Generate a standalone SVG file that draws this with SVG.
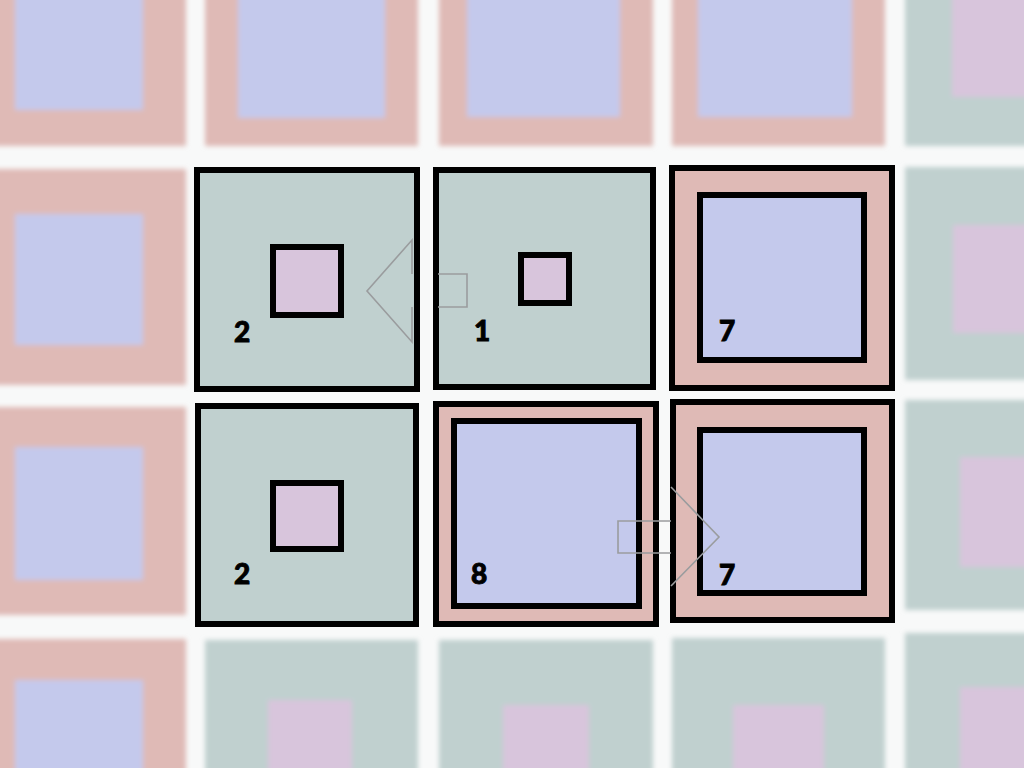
<svg xmlns="http://www.w3.org/2000/svg" width="1024" height="768" viewBox="0 0 1024 768">
<style>
.red{fill:#dfbab6}
.blue{fill:#c4c9ec}
.green{fill:#c0d0cf}
.pink{fill:#d8c5dc}
.bd{stroke:#000;stroke-width:6}
.lbl{font-family:Lato,"Liberation Sans",sans-serif;font-weight:900;font-size:28px;fill:#000;stroke:#000;stroke-width:0.9}
.arrow{fill:none;stroke:#9a9c9e;stroke-width:1.6;stroke-linejoin:miter}
</style>
<defs>
<filter id="blur" x="-5%" y="-5%" width="110%" height="110%"><feGaussianBlur stdDeviation="2.6"/></filter>
</defs>
<rect width="1024" height="768" fill="#f8f9f9"/>
<g id="background" filter="url(#blur)">
<rect class="red" x="-10" y="-10" width="196" height="156"/><rect class="blue" x="15" y="-10" width="128" height="120"/>
<rect class="red" x="205" y="-10" width="213" height="156"/><rect class="blue" x="238" y="-10" width="147" height="128"/>
<rect class="red" x="439" y="-10" width="214" height="156"/><rect class="blue" x="467" y="-10" width="153" height="127"/>
<rect class="red" x="672" y="-10" width="213" height="156"/><rect class="blue" x="698" y="-10" width="154" height="127"/>
<rect class="green" x="905" y="-10" width="129" height="156"/><rect class="pink" x="952" y="-10" width="82" height="107"/>
<rect class="red" x="-10" y="169" width="196" height="216"/><rect class="blue" x="15" y="214" width="128" height="131"/>
<rect class="green" x="905" y="167" width="129" height="213"/><rect class="pink" x="953" y="225" width="81" height="108"/>
<rect class="red" x="-10" y="407" width="196" height="208"/><rect class="blue" x="15" y="447" width="128" height="133"/>
<rect class="green" x="905" y="400" width="129" height="210"/><rect class="pink" x="960" y="457" width="74" height="110"/>
<rect class="red" x="-10" y="639" width="196" height="139"/><rect class="blue" x="15" y="680" width="128" height="98"/>
<rect class="green" x="205" y="640" width="213" height="138"/><rect class="pink" x="268" y="700" width="84" height="78"/>
<rect class="green" x="439" y="640" width="214" height="138"/><rect class="pink" x="503" y="705" width="86" height="73"/>
<rect class="green" x="672" y="638" width="213" height="140"/><rect class="pink" x="733" y="705" width="91" height="73"/>
<rect class="green" x="905" y="633" width="129" height="145"/><rect class="pink" x="960" y="687" width="74" height="91"/>
</g>
<g id="tile-a">
<rect class="green bd" x="197" y="170" width="220" height="219"/>
<rect class="pink bd" x="273" y="247" width="68" height="68"/>
<text class="lbl" x="234" y="342">2</text>
</g>
<g id="tile-b">
<rect class="green bd" x="436" y="170" width="217" height="217"/>
<rect class="pink bd" x="521" y="255" width="48" height="48"/>
<text class="lbl" x="474" y="341">1</text>
</g>
<g id="tile-c">
<rect class="red bd" x="672" y="168" width="220" height="220"/>
<rect class="blue bd" x="700" y="195" width="164" height="165"/>
<text class="lbl" x="719" y="341">7</text>
</g>
<g id="tile-d">
<rect class="green bd" x="198" y="406" width="218" height="218"/>
<rect class="pink bd" x="273" y="483" width="68" height="66"/>
<text class="lbl" x="234" y="584">2</text>
</g>
<g id="tile-e">
<rect class="red bd" x="436" y="404" width="220" height="220"/>
<rect class="blue bd" x="454" y="421" width="185" height="185"/>
<text class="lbl" x="471" y="584">8</text>
</g>
<g id="tile-f">
<rect class="red bd" x="673" y="402" width="219" height="218"/>
<rect class="blue bd" x="700" y="430" width="164" height="163"/>
<text class="lbl" x="719" y="585">7</text>
</g>
<g id="connectors">
<path class="arrow" d="M438,274 H467 V307 H438 M412,307 V342 L367,291 L412,240 V274"/>
<path class="arrow" d="M671,487 L719,537 L671,586 M671,553 H618 V521 H671"/>
</g>
</svg>
